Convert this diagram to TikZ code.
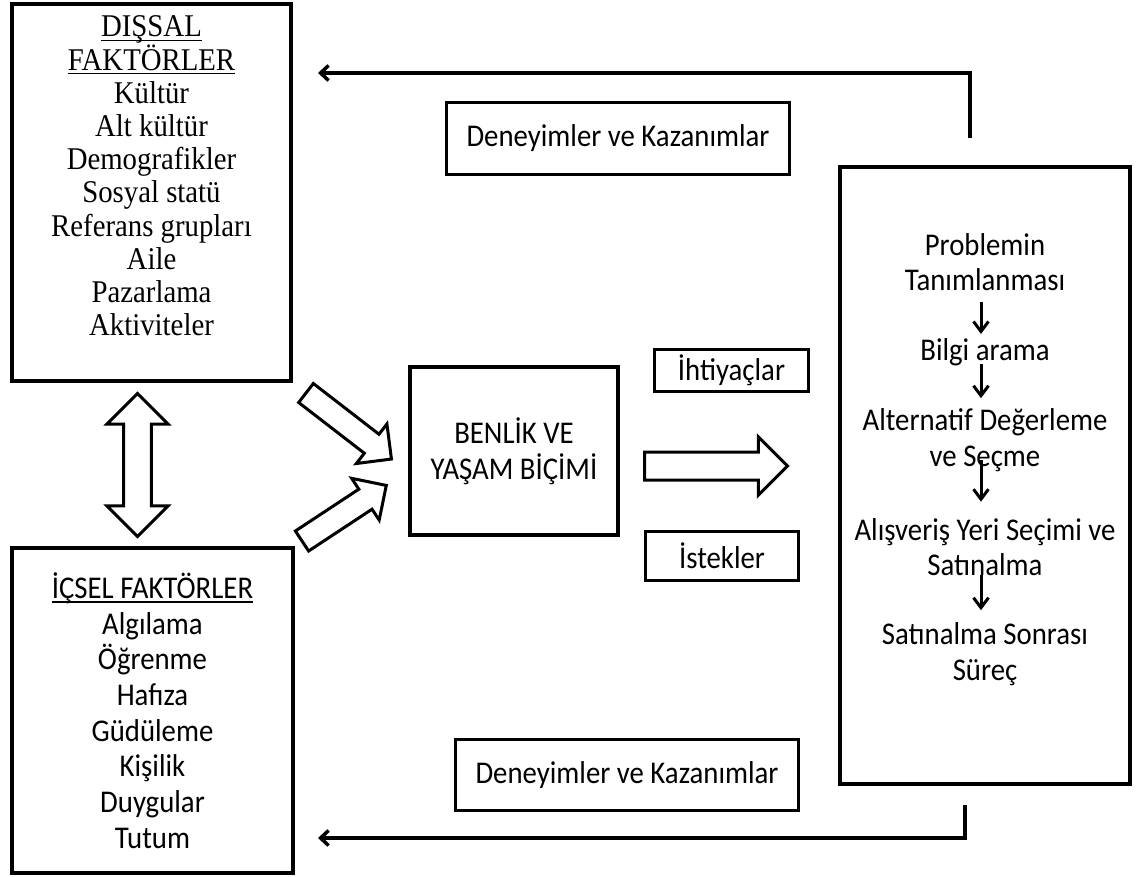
\documentclass[tikz,border=0pt]{standalone}
\usepackage{fontspec}
\setmainfont{Carlito}[FakeStretch=0.91]
\newfontfamily\tnr{Liberation Serif}[FakeStretch=0.91]
\newcommand\uln[1]{\setbox0\hbox{#1}\leavevmode\rlap{\rule[-2.4pt]{\wd0}{0.8pt}}\box0}
\usetikzlibrary{arrows.meta, shapes.arrows}

\begin{document}
\begin{tikzpicture}[x=0.02cm, y=-0.02cm,
  frame/.style={draw, line width=0.08cm, inner sep=0pt, outer sep=0pt, align=center,
                font=\fontsize{18}{20.3}\selectfont},
  tag/.style={frame, line width=0.06cm},
  txt/.style={inner sep=0pt, align=center, font=\fontsize{18}{20.3}\selectfont},
  fat/.style={single arrow, draw, line width=0.06cm, fill=white, inner xsep=0pt,
              outer sep=0pt, single arrow tip angle=90},
  back/.style={-{Straight Barb[length=1.6mm, width=3mm]}, line width=0.07cm},
  stp/.style={-{Straight Barb[length=2mm, width=3mm]}, line width=0.06cm}]
\useasboundingbox (0,0) rectangle (1136,876);
% left column
\node[frame, minimum width=5.58cm, minimum height=7.54cm] (dis) at (151.5,192.5) {};
\node[txt, font=\tnr\fontsize{18}{18.9}\selectfont] (dist) at (151.5,176)
  {\uln{DIŞSAL}\\\uln{FAKTÖRLER}\\Kültür\\Alt kültür\\Demografikler\\Sosyal statü\\Referans grupları\\Aile\\Pazarlama\\Aktiviteler};
\node[frame, minimum width=5.62cm, minimum height=6.5cm] (ic) at (152.5,710.5)
  {\uln{İÇSEL FAKTÖRLER}\\Algılama\\Öğrenme\\Hafıza\\Güdüleme\\Kişilik\\Duygular\\Tutum};
\node[double arrow, draw, line width=0.06cm, fill=white, inner xsep=0pt, inner ysep=0.25cm,
      outer sep=0pt, double arrow head extend=0.33cm, double arrow tip angle=90,
      minimum height=2.86cm, rotate=90] (dbl) at (137.5,465) {};
% into the middle
\node[fat, inner ysep=0.21cm, single arrow head extend=0.26cm, minimum height=2.16cm,
      anchor=tail, rotate=-37.7] (in1) at (306,393) {};
\node[fat, inner ysep=0.21cm, single arrow head extend=0.26cm, minimum height=2.02cm,
      anchor=tail, rotate=33.4] (in2) at (302,541) {};
\node[frame, minimum width=4.16cm, minimum height=3.36cm] (ben) at (514,451) {BENLİK VE\\YAŞAM BİÇİMİ};
\node[tag, minimum width=3.08cm, minimum height=0.84cm] (iht) at (731.5,370.5) {İhtiyaçlar};
\node[tag, minimum width=3.06cm, minimum height=0.98cm] (ist) at (722,556) {İstekler};
\node[fat, inner ysep=0.25cm, single arrow head extend=0.3cm, minimum height=2.86cm,
      anchor=tail] (out) at (644.5,466) {};
% decision process
\node[frame, minimum width=5.8cm, minimum height=12.34cm] (proc) at (985,475.5) {};
\node[txt] (p1) at (985,262) {Problemin\\Tanımlanması};
\node[txt] (p2) at (985,352) {Bilgi arama};
\node[txt] (p3) at (985,440) {Alternatif Değerleme\\ve Seçme};
\node[txt] (p4) at (985,547) {Alışveriş Yeri Seçimi ve\\Satınalma};
\node[txt] (p5) at (985,654) {Satınalma Sonrası\\Süreç};
\foreach \a/\b/\s/\e in {p1/p2/11/4, p2/p3/-2/10, p3/p4/-12/16, p4/p5/-1/12}
  \draw[stp, shorten <=\s*0.02cm, shorten >=\e*0.02cm] ([xshift=-0.08cm]\a.south) -- ([xshift=-0.08cm]\b.north);
% feedback
\node[tag, minimum width=6.86cm, minimum height=1.44cm] (den1) at (618,138.5) {Deneyimler ve Kazanımlar};
\node[tag, minimum width=6.86cm, minimum height=1.42cm] (den2) at (627,775) {Deneyimler ve Kazanımlar};
\coordinate (t1) at (970,138);
\coordinate (t2) at (318,73);
\coordinate (b1) at (965,805);
\coordinate (b2) at (318,838);
\draw[back] (t1) |- (t2);
\draw[back] (b1) |- (b2);
\end{tikzpicture}
\end{document}
